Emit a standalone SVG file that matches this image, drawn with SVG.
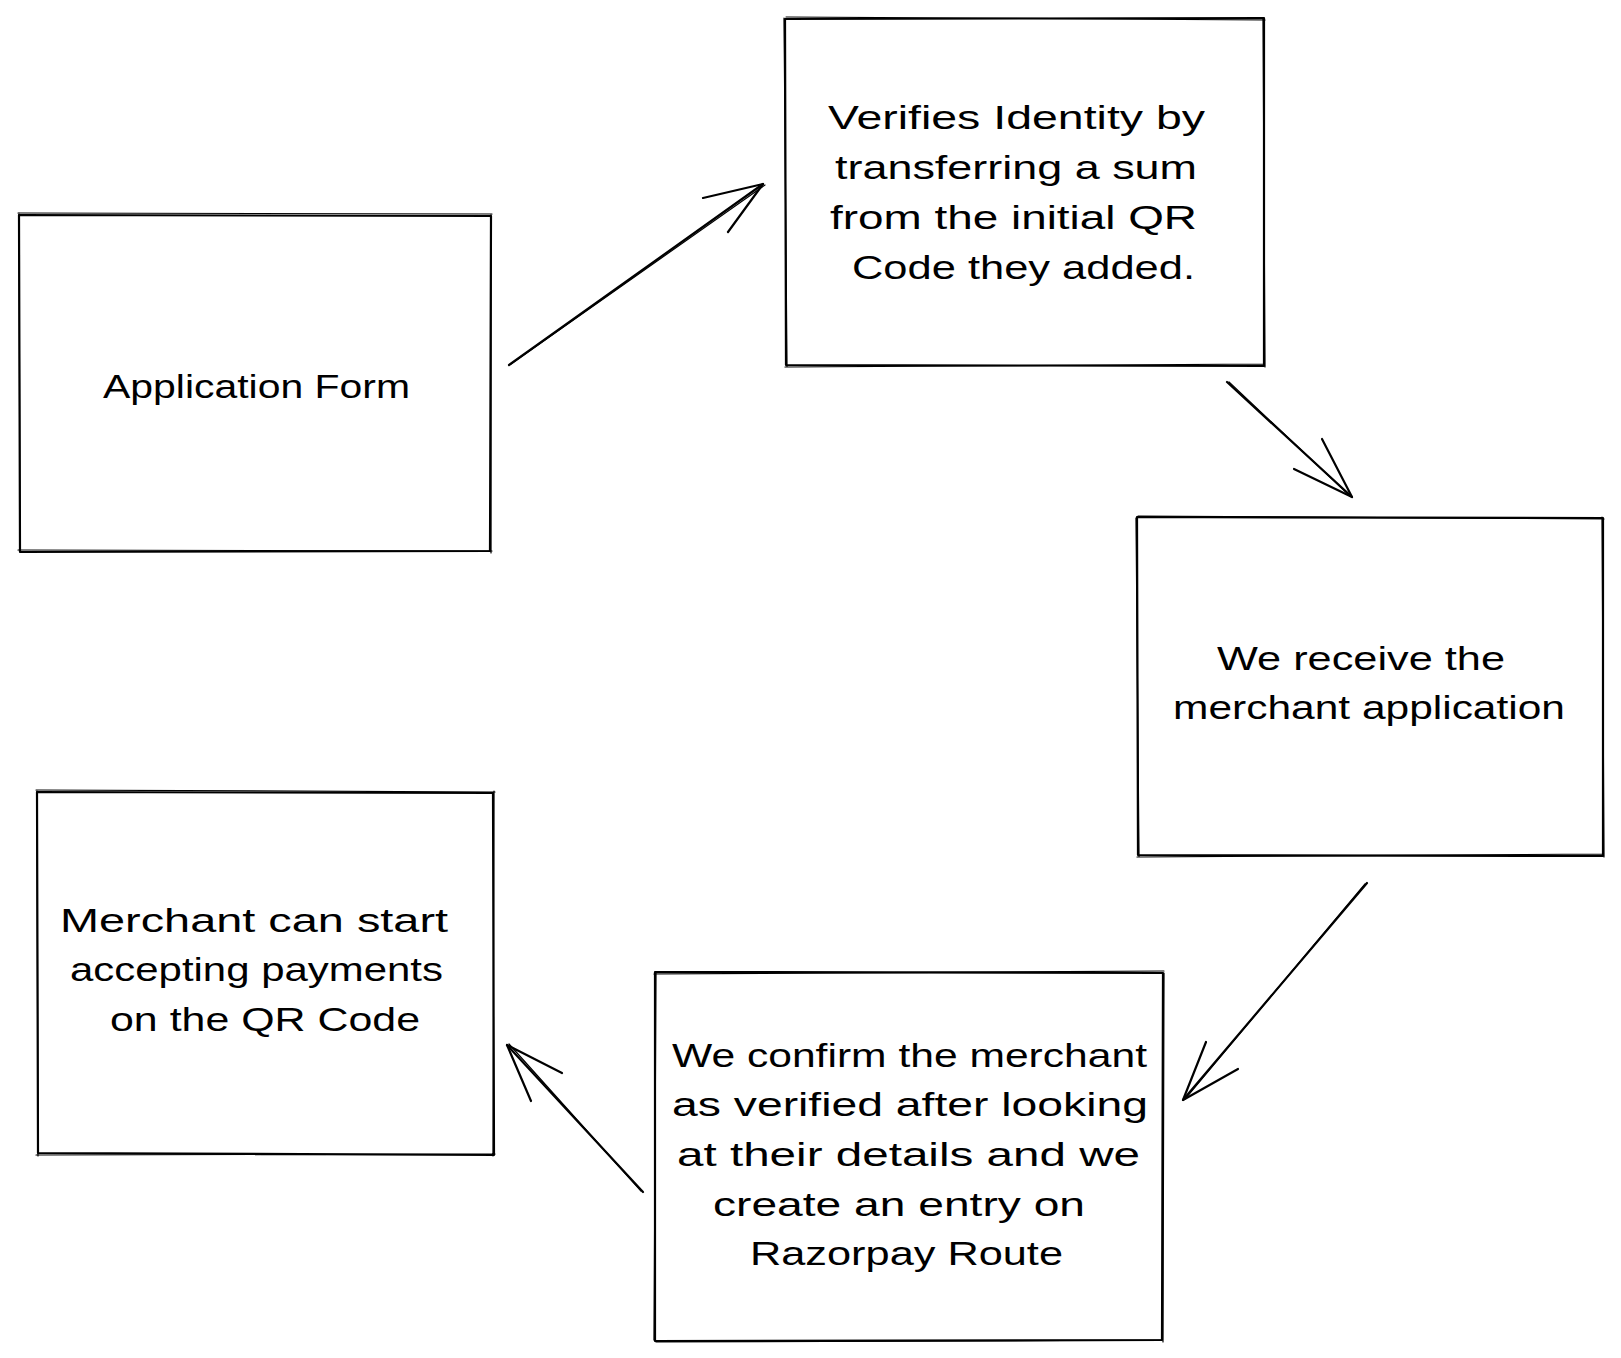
<svg xmlns="http://www.w3.org/2000/svg" width="1621" height="1358" viewBox="0 0 1621 1358">
<style>
.box{fill:none;stroke:#000;stroke-width:2.2;stroke-linecap:round;stroke-linejoin:round}
.box2{fill:none;stroke:#000;stroke-width:1.2;stroke-linecap:round}
.edge{fill:none;stroke:#000;stroke-width:2.2;stroke-linecap:round;stroke-linejoin:round}
.edge2{fill:none;stroke:#000;stroke-width:1.2;stroke-linecap:round}
text{font-family:"Liberation Sans",Arial,sans-serif;font-size:33px;fill:#000}
</style>
<rect width="1621" height="1358" fill="#fff"/>
<g id="node-application-form">
<path class="box" d="M19 215 L491 216 L490 551 L20 552 Z"/>
<path class="box2" d="M18 213 L492 214 M491 215 L491 553 M492 551 L18 550 M20 551 L19 213"/>
<text x="103" y="398" textLength="307" lengthAdjust="spacingAndGlyphs">Application Form</text>
</g>
<g id="node-verifies">
<path class="box" d="M785 19 L1264 18 L1264 366 L786 365 Z"/>
<path class="box2" d="M786 17 L1265 20 M1263 19 L1265 367 M1265 364 L785 367 M787 366 L784 18"/>
<text x="828" y="129" textLength="377" lengthAdjust="spacingAndGlyphs">Verifies Identity by</text>
<text x="835" y="179" textLength="362" lengthAdjust="spacingAndGlyphs">transferring a sum</text>
<text x="830" y="229" textLength="367" lengthAdjust="spacingAndGlyphs">from the initial QR</text>
<text x="852" y="279" textLength="343" lengthAdjust="spacingAndGlyphs">Code they added.</text>
</g>
<g id="node-receive">
<path class="box" d="M1137 517 L1603 518 L1603 856 L1138 855 Z"/>
<path class="box2" d="M1138 516 L1604 519 M1602 517 L1604 857 M1604 854 L1137 857 M1139 856 L1136 518"/>
<text x="1217" y="670" textLength="288" lengthAdjust="spacingAndGlyphs">We receive the</text>
<text x="1173" y="719" textLength="392" lengthAdjust="spacingAndGlyphs">merchant application</text>
</g>
<g id="node-confirm">
<path class="box" d="M655 972 L1163 973 L1162 1340 L655 1341 Z"/>
<path class="box2" d="M654 974 L1164 971 M1164 973 L1163 1342 M1161 1340 L656 1342 M654 1340 L656 972"/>
<text x="672" y="1067" textLength="475" lengthAdjust="spacingAndGlyphs">We confirm the merchant</text>
<text x="672" y="1116" textLength="476" lengthAdjust="spacingAndGlyphs">as verified after looking</text>
<text x="677" y="1166" textLength="463" lengthAdjust="spacingAndGlyphs">at their details and we</text>
<text x="713" y="1216" textLength="372" lengthAdjust="spacingAndGlyphs">create an entry on</text>
<text x="750" y="1265" textLength="313" lengthAdjust="spacingAndGlyphs">Razorpay Route</text>
</g>
<g id="node-merchant">
<path class="box" d="M37 792 L493 793 L494 1155 L38 1153 Z"/>
<path class="box2" d="M36 790 L495 792 M494 791 L493 1156 M495 1154 L36 1155 M38 1156 L37 791"/>
<text x="60" y="932" textLength="388" lengthAdjust="spacingAndGlyphs">Merchant can start</text>
<text x="70" y="981" textLength="373" lengthAdjust="spacingAndGlyphs">accepting payments</text>
<text x="110" y="1031" textLength="310" lengthAdjust="spacingAndGlyphs">on the QR Code</text>
</g>
<g id="connectors">
<path class="edge" d="M509 365 L763 184"/>
<path class="edge2" d="M511 364 L765 185"/>
<path class="edge" d="M703 198 L763 184 L728 232"/>
<path class="edge" d="M1227 382 L1352 497"/>
<path class="edge2" d="M1229 382 L1350 496"/>
<path class="edge" d="M1294 469 L1352 497 L1322 439"/>
<path class="edge" d="M1367 883 L1183 1100"/>
<path class="edge2" d="M1365 884 L1185 1099"/>
<path class="edge" d="M1206 1042 L1183 1100 L1238 1069"/>
<path class="edge" d="M643 1192 L507 1045"/>
<path class="edge2" d="M641 1191 L509 1044"/>
<path class="edge" d="M562 1073 L507 1045 L531 1101"/>
</g>
</svg>
